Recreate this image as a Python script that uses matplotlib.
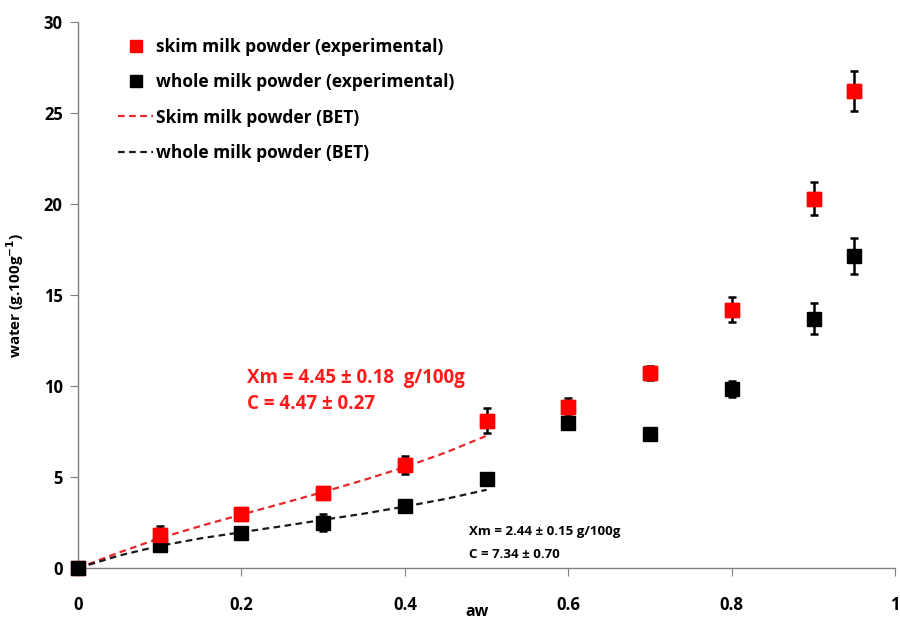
import matplotlib
matplotlib.use("Agg")
import matplotlib.pyplot as plt
from matplotlib.lines import Line2D

plt.rcParams['font.family'] = ['Open Sans', 'DejaVu Sans']
plt.rcParams['font.weight'] = 'bold'

aw = [0, 0.1, 0.2, 0.3, 0.4, 0.5, 0.6, 0.7, 0.8, 0.9, 0.95]
skim = [0, 1.8, 2.97, 4.1, 5.66, 8.1, 8.83, 10.73, 14.2, 20.3, 26.2]
skim_err = [0, 0.5, 0.3, 0.2, 0.5, 0.7, 0.5, 0.4, 0.7, 0.9, 1.1]
whole = [0, 1.26, 1.9, 2.5, 3.42, 4.89, 7.98, 7.34, 9.83, 13.7, 17.15]
whole_err = [0, 0.2, 0.15, 0.45, 0.2, 0.15, 0.3, 0.2, 0.45, 0.85, 1.0]

bet_aw = [0, 0.05, 0.1, 0.15, 0.2, 0.25, 0.3, 0.35, 0.4, 0.45, 0.5]
skim_bet = [0, 0.85, 1.64, 2.31, 2.94, 3.55, 4.18, 4.84, 5.55, 6.35, 7.27]
whole_bet = [0, 0.68, 1.22, 1.63, 1.97, 2.30, 2.65, 2.99, 3.38, 3.80, 4.30]

xticks = [0, 0.2, 0.4, 0.6, 0.8, 1]
xticklabels = ['0', '0.2', '0.4', '0.6', '0.8', '1']
yticks = [0, 5, 10, 15, 20, 25, 30]

fig = plt.figure(figsize=(9, 6.21), dpi=100)
ax = fig.add_axes([0.0867, 0.0853, 0.908, 0.879])

ax.plot(bet_aw, skim_bet, '--', color='#e8262b', lw=1.6, dashes=(3, 2), zorder=2)
ax.plot(bet_aw, whole_bet, '--', color='#1a1a1a', lw=1.6, dashes=(3, 2), zorder=2)

ax.errorbar(aw, skim, yerr=skim_err, fmt='s', color='#ff0000', mec='#ff0000', ms=9.5,
            ecolor='black', elinewidth=1.8, capsize=3, capthick=1.8, zorder=3,
            clip_on=False)
ax.errorbar(aw, whole, yerr=whole_err, fmt='s', color='black', ms=9.5,
            ecolor='black', elinewidth=1.8, capsize=3, capthick=1.8, zorder=3,
            clip_on=False)
# re-draw skim markers except origin above whole markers
ax.plot(aw[1:], skim[1:], 's', color='#ff0000', ms=9.5, zorder=5)

ax.set_xlim(0, 1)
ax.set_ylim(0, 30)
ax.set_xticks(xticks)
ax.set_xticklabels(xticklabels)
ax.set_yticks(yticks)
ax.spines['top'].set_visible(False)
ax.spines['right'].set_visible(False)
for s in ('left', 'bottom'):
    ax.spines[s].set_color('#7f7f7f')
    ax.spines[s].set_linewidth(1.0)
ax.tick_params(axis='x', length=6, color='#7f7f7f', pad=14, labelsize=12)
ax.tick_params(axis='y', length=6, color='#7f7f7f', pad=5, labelsize=12)
for lbl in ax.get_xticklabels() + ax.get_yticklabels():
    lbl.set_fontweight('bold')

ax.set_xlabel('aw', fontsize=11.5, fontweight='bold')
ax.xaxis.set_label_coords(0.488, -0.065)
ax.set_ylabel('water (g.100g$^{\\mathbf{-1}}$)', fontsize=11, fontweight='bold')
ax.yaxis.set_label_coords(-0.064, 0.5)

handles = [
    Line2D([], [], marker='s', ls='none', color='#ff0000', ms=9),
    Line2D([], [], marker='s', ls='none', color='black', ms=9),
    Line2D([], [], ls='--', color='#e8262b', lw=1.6, dashes=(3, 2)),
    Line2D([], [], ls='--', color='#1a1a1a', lw=1.6, dashes=(3, 2)),
]
labels = ['skim milk powder (experimental)', 'whole milk powder (experimental)',
          'Skim milk powder (BET)', 'whole milk powder (BET)']
leg = ax.legend(handles, labels, loc='upper left', bbox_to_anchor=(0.03, 1.0),
                frameon=False, handlelength=2.0, handletextpad=0.2,
                labelspacing=1.0, prop={'weight': 'bold', 'size': 12.5})

ax.text(0.207, 10.15, 'Xm = 4.45 ± 0.18  g/100g', color='#ff1a1a', fontsize=13.5,
        fontweight='bold')
ax.text(0.207, 8.75, 'C = 4.47 ± 0.27', color='#ff1a1a', fontsize=13.5, fontweight='bold')
ax.text(0.479, 1.8, 'Xm = 2.44 ± 0.15 g/100g', color='black', fontsize=9.5, fontweight='bold')
ax.text(0.479, 0.55, 'C = 7.34 ± 0.70', color='black', fontsize=9.5, fontweight='bold')

fig.savefig('out.png', dpi=100)
